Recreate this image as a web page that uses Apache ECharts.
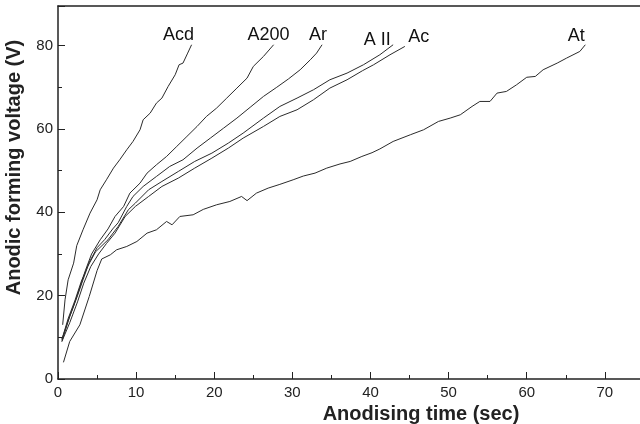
<!DOCTYPE html>
<html>
<head>
<meta charset="utf-8">
<script src="https://cdn.jsdelivr.net/npm/echarts@6/dist/echarts.min.js"></script>
<style>
  html, body { margin: 0; padding: 0; background: #fff; }
  #forming-chart { width: 640px; height: 424px; }
</style>
</head>
<body>
<div id="forming-chart"></div>
<script>
// anodising time (sec) / forming voltage (V) pairs
const acd = [[0.6, 13], [0.9, 19], [1.3, 23.8], [2, 27.8], [2.4, 32], [3.2, 35.8], [4.1, 39.8], [5, 43],
  [5.4, 45.4], [6.2, 47.8], [7.1, 50.6], [7.9, 52.6], [8.8, 55], [9.6, 57], [10.5, 59.8], [10.9, 62.2],
  [11.8, 63.8], [12.6, 66.2], [13.3, 67.4], [14.1, 70.2], [15, 73], [15.5, 75.4], [16, 75.8], [16.6, 78.2], [17.1, 80.2]];
const a200 = [[0.5, 9.5], [1.3, 14], [2, 17.5], [2.8, 22], [3.5, 26], [4.3, 30], [5.4, 33.4], [6.4, 36],
  [7.3, 39], [8.4, 41.4], [9.2, 44.6], [10.5, 47], [11.4, 49.4], [12.6, 51.4], [13.9, 53.4], [15.2, 55.8],
  [16.5, 58.2], [17.8, 60.6], [19, 63], [20.3, 65], [21.6, 67.4], [22.9, 69.8], [24.2, 72.2], [25, 75],
  [26.3, 77.4], [27.6, 80.2]];
const ar = [[0.5, 9], [1.5, 15], [2.5, 20], [3.2, 23.8], [4, 28], [5, 31.5], [6, 33.5], [7, 36], [7.7, 37.5],
  [8.8, 41.4], [9.6, 43.8], [10.9, 46.2], [12.6, 48.6], [14.3, 51], [16, 52.6], [17.8, 55.4], [19.5, 57.8],
  [21.2, 60.2], [22.9, 62.6], [24.6, 65.2], [26.3, 67.8], [28, 70], [29.5, 72], [31, 74.2], [32.3, 76.6],
  [33.1, 78.2], [33.8, 80.2]];
const aII = [[0.5, 9.5], [1.3, 14.5], [2.2, 19], [3, 23.5], [3.8, 27], [4.8, 30.5], [6.4, 33.4], [7.7, 36.6],
  [9, 40.6], [9.9, 42.2], [11.6, 45.4], [13.3, 47.4], [15.4, 49.8], [17.5, 52.2], [19.7, 54.2], [21.8, 56.6],
  [23.7, 59], [26.3, 62.6], [28.4, 65.4], [30.6, 67.4], [32.7, 69.4], [34.8, 71.8], [37, 73.4], [39.1, 75.4],
  [41.2, 77.8], [42.9, 80.2]];
const ac = [[0.5, 9], [1.5, 13.5], [2.5, 18.5], [3.3, 23], [4.2, 27], [5.2, 30], [6.2, 32.5], [7.3, 35],
  [8.6, 39], [9.9, 41.4], [11.6, 43.8], [13.3, 46.2], [15.4, 48.2], [17.5, 50.6], [19.7, 53], [21.8, 55.4],
  [23.7, 57.8], [26.3, 60.6], [28.4, 63], [30.6, 64.6], [32.7, 67], [34.8, 69.8], [37, 71.8], [39, 74],
  [40.4, 75.4], [42.5, 77.8], [44.4, 79.8]];
const at = [[0.7, 4], [1.5, 9], [2.8, 13], [4, 19.8], [5, 26], [5.6, 28.8], [6.7, 29.8], [7.5, 31], [8.8, 31.8],
  [10.1, 33], [11.4, 35], [12.6, 35.8], [13.9, 37.8], [14.6, 37], [15.6, 39], [17.3, 39.4], [18.6, 40.7],
  [20.3, 41.8], [22, 42.6], [23.5, 43.8], [24.2, 42.8], [25.4, 44.6], [26.9, 45.8], [28.4, 46.7], [30.1, 47.8],
  [31.4, 48.7], [32.9, 49.4], [34.4, 50.6], [36.1, 51.6], [37.4, 52.2], [38.9, 53.4], [40.2, 54.3], [41.2, 55.2],
  [42.9, 57], [45.1, 58.6], [46.8, 59.8], [48.7, 61.8], [50.2, 62.6], [51.5, 63.4], [53, 65.4], [54, 66.6],
  [55.3, 66.6], [56.2, 68.6], [57.4, 69], [58.7, 70.6], [60, 72.4], [61.1, 72.6], [62.1, 74.2], [63.9, 75.8],
  [65.1, 77], [66.8, 78.6], [67.5, 80.2]];

const curveNames = ["Acd", "A200", "Ar", "A II", "Ac", "At"];
const curveData = [acd, a200, ar, aII, ac, at];
// where each name sits relative to the end of its curve
const labelOffsets = [[-13, -10], [-5, -10], [-4, -10], [-16, -5], [14, -9], [-9, -9]];

const FONT = "Liberation Sans";
const INK = "#222";

let chart = echarts.init(document.getElementById("forming-chart"));

let series = curveNames.map((name, i) => {
  return {
    name: name,
    type: "line",
    data: curveData[i],
    symbol: "none",
    lineStyle: { color: "#2b2b2b", width: 1 },
    endLabel: {
      show: true,
      formatter: "{a}",
      align: "center",
      verticalAlign: "middle",
      distance: 0,
      offset: labelOffsets[i],
      color: "#111",
      fontFamily: FONT,
      fontSize: 18
    }
  };
});

let option = {
  animation: false,
  backgroundColor: "#fff",
  grid: { left: 58, right: 0, top: 6, bottom: 45, containLabel: false, outerBoundsMode: "none" },
  xAxis: [
    {
      type: "value",
      min: 0,
      max: 74.5,
      interval: 10,
      name: "Anodising time (sec)",
      nameLocation: "middle",
      nameGap: 22,
      nameTextStyle: { fontFamily: FONT, fontSize: 20, fontWeight: "bold", color: INK, padding: [0, 0, 0, 144] },
      axisLine: { lineStyle: { color: INK, width: 1.5 } },
      axisTick: { inside: true, length: 7, lineStyle: { color: INK } },
      minorTick: { show: true, splitNumber: 2, length: 4, lineStyle: { color: INK } },
      axisLabel: { margin: 6, fontFamily: FONT, fontSize: 15, color: INK, showMaxLabel: false },
      splitLine: { show: false }
    },
    {
      // top frame line
      type: "value",
      position: "top",
      min: 0,
      max: 74.5,
      axisLine: { show: true, lineStyle: { color: INK, width: 1.5 } },
      axisTick: { show: false },
      axisLabel: { show: false },
      splitLine: { show: false }
    }
  ],
  yAxis: {
    type: "value",
    min: 0,
    max: 89.5,
    interval: 20,
    name: "Anodic forming voltage (V)",
    nameLocation: "middle",
    nameGap: 34,
    nameTextStyle: { fontFamily: FONT, fontSize: 20, fontWeight: "bold", color: INK, padding: [0, 0, 0, 50] },
    axisLine: { show: true, lineStyle: { color: INK, width: 1.5 } },
    axisTick: { inside: true, length: 7, lineStyle: { color: INK } },
    minorTick: { show: true, splitNumber: 2, length: 4, lineStyle: { color: INK } },
    axisLabel: { margin: 5, fontFamily: FONT, fontSize: 15, color: INK, showMaxLabel: false },
    splitLine: { show: false }
  },
  series: series
};

chart.setOption(option);
</script>
</body>
</html>
